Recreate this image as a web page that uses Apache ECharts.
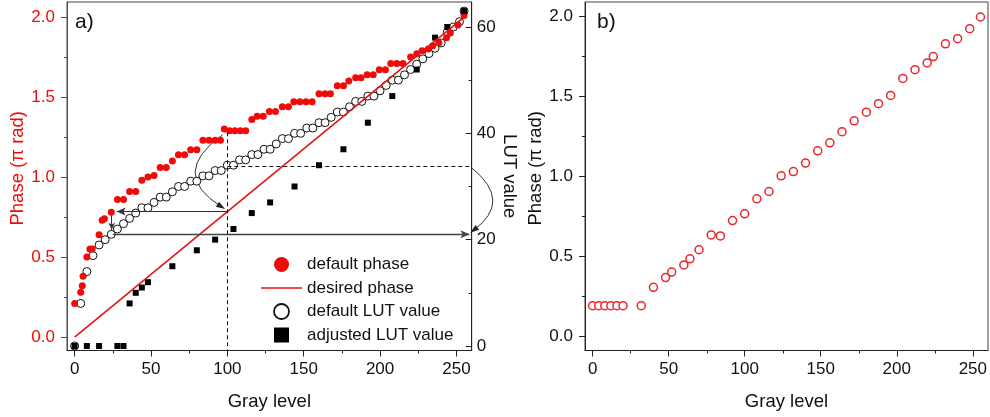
<!DOCTYPE html>
<html>
<head>
<meta charset="utf-8">
<script src="https://cdn.jsdelivr.net/npm/echarts@6/dist/echarts.min.js"></script>
<style>
  html, body { margin: 0; padding: 0; background: #fff; }
  #chart { width: 990px; height: 417px; }
</style>
</head>
<body>
<div id="chart"></div>
<script>
const FONT = '"Liberation Sans", Arial, sans-serif'
const RED = '#f00a0a'

// panel a) default phase (pi rad) vs gray level
const phaseGray = [0, 4, 5, 5.5, 8, 10, 11.5, 16, 18, 19.5, 24, 28, 32, 36, 40, 44, 48, 52, 56, 60,
  64, 68, 72, 76, 80, 84, 88, 92, 95.5, 98, 101.5, 105, 108.5, 112, 116, 119.5, 123.5, 127.5, 131.5, 136,
  140, 143.5, 147.5, 151.5, 155.5, 160, 164, 167.5, 172, 176, 179.5, 184, 187.5, 191.5, 195.5, 199.5, 203.5, 207, 211, 215,
  220, 224, 227.5, 231.5, 234.5, 238.5, 243.5, 246, 251, 255]
const phaseValues = [0.21, 0.28, 0.32, 0.38, 0.50, 0.55, 0.55, 0.64, 0.73, 0.74, 0.78, 0.86, 0.86, 0.91, 0.91, 0.98, 1.00, 1.01, 1.06, 1.06,
  1.10, 1.14, 1.14, 1.17, 1.17, 1.23, 1.23, 1.23, 1.23, 1.30, 1.29, 1.29, 1.29, 1.29, 1.36, 1.38, 1.38, 1.41, 1.41, 1.44,
  1.44, 1.47, 1.47, 1.47, 1.47, 1.52, 1.52, 1.52, 1.57, 1.57, 1.60, 1.62, 1.62, 1.64, 1.64, 1.67, 1.67, 1.71, 1.71, 1.71,
  1.75, 1.77, 1.79, 1.80, 1.82, 1.84, 1.87, 1.90, 1.95, 2.01]

// desired (linear) phase
const desiredGray = [0, 255]
const desiredPhase = [0, 2]

// default LUT value
const lutGray = [0, 4, 8, 12, 16, 20, 24, 28, 32, 36, 40, 44, 48, 52, 56, 60, 64, 68, 72, 76, 80, 84, 88, 92, 96, 100,
  104, 108, 112, 116, 120, 124, 128, 132, 136, 140, 144, 148, 152, 156, 160, 164, 168, 172, 176, 180, 184, 188, 192, 196,
  200, 204, 208, 212, 216, 220, 224, 228, 232, 236, 240, 244, 248, 252, 255]
const lutDefault = [0, 8, 14, 17, 19, 20, 21, 22, 23, 24, 25, 26, 26, 27, 28, 28, 29, 30, 30, 31, 31, 32, 32, 33, 33, 34,
  34, 35, 35, 36, 36, 37, 37, 38, 39, 39, 40, 40, 41, 41, 42, 42, 43, 44, 44, 45, 46, 46, 47, 47,
  48, 49, 50, 50, 51, 52, 53, 54, 55, 56, 57, 59, 60, 61, 63]

// adjusted LUT value
const adjGray = [0, 8, 16, 28, 32, 36, 40, 44, 48, 64, 80, 92, 104, 116, 128, 144, 160, 176, 192, 208, 224, 236, 244, 255]
const adjLut = [0, 0, 0, 0, 0, 8, 10, 11, 12, 15, 18, 20, 22, 25, 27, 30, 34, 37, 42, 47, 52, 58, 60, 63]

// panel b) measured phase with adjusted LUT
const bGray = [0, 4, 8, 12, 16, 20, 32, 40, 48, 52, 60, 64, 70, 78, 84, 92, 100, 108, 116, 124, 132, 140, 148, 156,
  164, 172, 180, 188, 196, 204, 212, 220, 224, 232, 240, 248, 255]
const bPhase = [0.19, 0.19, 0.19, 0.19, 0.19, 0.19, 0.19, 0.305, 0.366, 0.40, 0.445, 0.483, 0.54, 0.633, 0.627, 0.723, 0.765, 0.859, 0.905, 1.003, 1.03, 1.083, 1.16, 1.21,
  1.28, 1.348, 1.402, 1.455, 1.507, 1.613, 1.668, 1.71, 1.75, 1.83, 1.862, 1.925, 1.998]

// curved annotation arrows: [x1, y1, x2, y2, curveness]
const phaseArc = [[97, 1.265, 98.5, 0.80, -0.75]]
const lutArc = [[260, 33.5, 259, 21.3, 0.65]]

// ticks
const xMajor = [0, 50, 100, 150, 200, 250]
const xMinor = [25, 75, 125, 175, 225]
const phaseMajor = [0, 0.5, 1, 1.5, 2]
const phaseMinor = [0.25, 0.75, 1.25, 1.75]
const lutMajor = [0, 20, 40, 60]
const lutMinor = [10, 30, 50]

const pairs = (xs, ys) => xs.map((x, i) => [x, ys[i]])

const X_MIN = -5, X_MAX = 260
const PA_MIN = -0.084, PA_MAX = 2.094
const PB_MIN = -0.091, PB_MAX = 2.092
const LUT_MIN = -0.85, LUT_MAX = 64.7

const txt = (size, color) => ({ fontSize: size, color: color, fontFamily: FONT })

function xMain(gridIndex) {
  return {
    gridIndex, type: 'value', min: X_MIN, max: X_MAX,
    axisLine: { onZero: false, lineStyle: { color: '#222', width: 1 } },
    axisTick: { customValues: xMajor, length: 6, lineStyle: { color: '#222' } },
    axisLabel: { customValues: xMajor, margin: 10, ...txt(17, '#111') },
    splitLine: { show: false },
    name: 'Gray level', nameLocation: 'middle', nameGap: 42,
    nameTextStyle: txt(18.5, '#111')
  }
}

function minorAxis(gridIndex, min, max, values, extra) {
  return Object.assign({
    gridIndex, type: 'value', min, max,
    axisLine: { show: false, onZero: false },
    axisLabel: { show: false },
    axisTick: { customValues: values, length: 3, lineStyle: { color: '#222' } },
    splitLine: { show: false }
  }, extra || {})
}

// bezier arrow drawn from data coordinates
function renderArc(params, api) {
  const p1 = api.coord([api.value(0), api.value(1)])
  const p2 = api.coord([api.value(2), api.value(3)])
  const c = api.value(4)
  const cx = (p1[0] + p2[0]) / 2 + c * (p2[1] - p1[1])
  const cy = (p1[1] + p2[1]) / 2 + c * (p1[0] - p2[0])
  let dx = p2[0] - cx, dy = p2[1] - cy
  const len = Math.sqrt(dx * dx + dy * dy)
  dx /= len; dy /= len
  const L = 9, W = 3
  const bx = p2[0] - dx * L, by = p2[1] - dy * L
  return {
    type: 'group',
    children: [
      {
        type: 'bezierCurve',
        shape: { x1: p1[0], y1: p1[1], x2: p2[0] - dx * 4, y2: p2[1] - dy * 4, cpx1: cx, cpy1: cy },
        style: { stroke: '#333', lineWidth: 1, fill: null }
      },
      {
        type: 'polygon',
        shape: { points: [[p2[0], p2[1]], [bx - dy * W, by + dx * W], [bx + dy * W, by - dx * W]] },
        style: { fill: '#222' }
      }
    ]
  }
}

const chart = echarts.init(document.getElementById('chart'))

chart.setOption({
  animation: false,
  grid: [
    { left: 67, right: 518.3, top: 2, bottom: 66.5, show: true, borderColor: '#444', borderWidth: 1 },
    { left: 585, right: 1.7, top: 2, bottom: 66.5, show: true, borderColor: '#444', borderWidth: 1 },
    { left: 67, right: 518.3, top: 2, bottom: 66.5 },
    { left: 585, right: 1.7, top: 2, bottom: 66.5 }
  ],
  xAxis: [
    xMain(0),
    xMain(1),
    minorAxis(2, X_MIN, X_MAX, xMinor),
    minorAxis(3, X_MIN, X_MAX, xMinor)
  ],
  yAxis: [
    {
      gridIndex: 0, type: 'value', min: PA_MIN, max: PA_MAX, position: 'left',
      axisLine: { onZero: false, lineStyle: { color: RED, width: 1 } },
      axisTick: { customValues: phaseMajor, length: 6, lineStyle: { color: RED } },
      axisLabel: { customValues: phaseMajor, margin: 12, formatter: v => v.toFixed(1), ...txt(17, RED) },
      splitLine: { show: false },
      name: 'Phase (\u03c0 rad)', nameLocation: 'middle', nameGap: 38, nameRotate: 90,
      nameTextStyle: { ...txt(18.5, RED), padding: [0, 0, 0, 16] }
    },
    {
      gridIndex: 0, type: 'value', min: LUT_MIN, max: LUT_MAX, position: 'right',
      axisLine: { onZero: false, lineStyle: { color: '#222', width: 1 } },
      axisTick: { customValues: lutMajor, inside: true, length: 6, lineStyle: { color: '#222' } },
      axisLabel: { customValues: lutMajor, margin: 5, ...txt(17, '#111') },
      splitLine: { show: false },
      name: 'LUT value', nameLocation: 'middle', nameGap: 28, nameRotate: -90,
      nameTextStyle: txt(18.5, '#111')
    },
    {
      gridIndex: 1, type: 'value', min: PB_MIN, max: PB_MAX, position: 'left',
      axisLine: { onZero: false, lineStyle: { color: '#222', width: 1 } },
      axisTick: { customValues: phaseMajor, length: 6, lineStyle: { color: '#222' } },
      axisLabel: { customValues: phaseMajor, margin: 12, formatter: v => v.toFixed(1), ...txt(17, '#111') },
      splitLine: { show: false },
      name: 'Phase (\u03c0 rad)', nameLocation: 'middle', nameGap: 38, nameRotate: 90,
      nameTextStyle: { ...txt(18.5, '#111'), padding: [0, 0, 0, 16] }
    },
    minorAxis(2, PA_MIN, PA_MAX, phaseMinor, { position: 'left', axisTick: { customValues: phaseMinor, length: 3, lineStyle: { color: RED } } }),
    minorAxis(2, LUT_MIN, LUT_MAX, lutMinor, { position: 'right', axisTick: { customValues: lutMinor, inside: true, length: 3, lineStyle: { color: '#222' } } }),
    minorAxis(3, PB_MIN, PB_MAX, phaseMinor, { position: 'left' })
  ],
  legend: {
    data: [
      'default phase',
      { name: 'desired phase', icon: 'path://M0,0H41V1.6H0Z' },
      { name: 'default LUT value', itemStyle: { borderWidth: 1.8 } },
      { name: 'adjusted LUT value', icon: 'path://M0,0H10V10H0Z' }
    ],
    orient: 'vertical', left: 256, top: 251, itemWidth: 41, itemHeight: 15, itemGap: 6.5,
    selectedMode: false,
    textStyle: txt(17, '#111')
  },
  graphic: [
    { type: 'text', left: 75, top: 12, style: { text: 'a)', font: '21px ' + FONT, fill: '#111' } },
    { type: 'text', left: 597, top: 12, style: { text: 'b)', font: '21px ' + FONT, fill: '#111' } }
  ],
  series: [
    {
      name: 'default LUT value', type: 'scatter', xAxisIndex: 0, yAxisIndex: 1, clip: false,
      symbol: 'circle', symbolSize: 8,
      itemStyle: { color: '#fff', borderColor: '#111', borderWidth: 1, opacity: 1 },
      data: pairs(lutGray, lutDefault),
      markLine: {
        silent: true, animation: false, symbol: ['none', 'none'], label: { show: false },
        lineStyle: { color: '#111', width: 1, type: [4, 3] },
        data: [
          [{ coord: [100, 33.8] }, { coord: [X_MAX, 33.8] }],
          [{ coord: [25, 21], lineStyle: { type: 'solid', color: '#444', width: 1.3 } },
           { coord: [258.5, 21], symbol: 'arrow', symbolSize: [6, 9] }]
        ]
      }
    },
    {
      name: 'default phase', type: 'scatter', xAxisIndex: 0, yAxisIndex: 0,
      symbol: 'circle', symbolSize: 7,
      itemStyle: { color: RED, opacity: 1 },
      data: pairs(phaseGray, phaseValues)
    },
    {
      name: 'desired phase', type: 'line', xAxisIndex: 0, yAxisIndex: 0, clip: false,
      symbol: 'none', showSymbol: false,
      lineStyle: { color: '#e21313', width: 1.6 },
      itemStyle: { color: '#e21313' },
      data: pairs(desiredGray, desiredPhase),
      markLine: {
        silent: true, animation: false, symbol: ['none', 'none'], label: { show: false },
        lineStyle: { color: '#111', width: 1, type: [4, 3] },
        data: [
          [{ coord: [100, 1.28] }, { coord: [100, PA_MIN] }],
          [{ coord: [100, 0.784], lineStyle: { type: 'solid', color: '#333', width: 1.2 } },
           { coord: [27.5, 0.784], symbol: 'arrow', symbolSize: [6, 9] }],
          [{ coord: [24.3, 0.76], lineStyle: { type: 'solid', color: '#333', width: 1 } },
           { coord: [24.3, 0.67], symbol: 'arrow', symbolSize: [5, 7] }]
        ]
      }
    },
    {
      name: 'adjusted LUT value', type: 'scatter', xAxisIndex: 0, yAxisIndex: 1,
      symbol: 'rect', symbolSize: 6,
      itemStyle: { color: '#000', opacity: 1 },
      data: pairs(adjGray, adjLut)
    },
    {
      name: 'phase arc', type: 'custom', xAxisIndex: 0, yAxisIndex: 0, clip: false, silent: true,
      encode: { x: [0, 2], y: [1, 3] },
      renderItem: renderArc,
      data: phaseArc
    },
    {
      name: 'lut arc', type: 'custom', xAxisIndex: 0, yAxisIndex: 1, clip: false, silent: true,
      encode: { x: [0, 2], y: [1, 3] },
      renderItem: renderArc,
      data: lutArc
    },
    {
      name: 'measured', type: 'scatter', xAxisIndex: 1, yAxisIndex: 2,
      symbol: 'circle', symbolSize: 8,
      itemStyle: { color: '#fff', borderColor: '#e8262b', borderWidth: 1.5, opacity: 1 },
      data: pairs(bGray, bPhase)
    }
  ]
})
</script>
</body>
</html>
